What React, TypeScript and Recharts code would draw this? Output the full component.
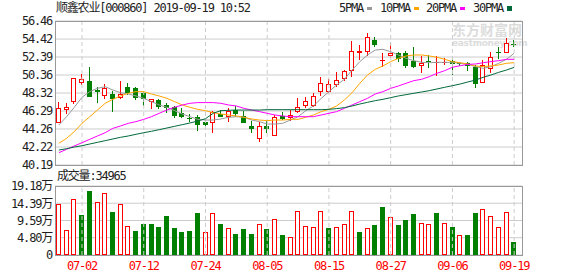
import {
  ComposedChart,
  BarChart,
  Bar,
  Line,
  XAxis,
  YAxis,
  CartesianGrid,
  ReferenceLine,
} from 'recharts';

// trading days shown in the window
const dates = [
  '06-27', '06-28', '07-01', '07-02', '07-03', '07-04', '07-05', '07-08', '07-09', '07-10',
  '07-11', '07-12', '07-15', '07-16', '07-17', '07-18', '07-19', '07-22', '07-23', '07-24',
  '07-25', '07-26', '07-29', '07-30', '07-31', '08-01', '08-02', '08-05', '08-06', '08-07',
  '08-08', '08-09', '08-12', '08-13', '08-14', '08-15', '08-16', '08-19', '08-20', '08-21',
  '08-22', '08-23', '08-26', '08-27', '08-28', '08-29', '08-30', '09-02', '09-03', '09-04',
  '09-05', '09-06', '09-09', '09-10', '09-11', '09-12', '09-16', '09-17', '09-18', '09-19',
];

const opens = [
  44.97, 46.4, 47.3, 49.49, 49.68, 48.65, 47.99, 48.21, 47.72, 49.04,
  48.85, 48.29, 47.35, 47.54, 46.97, 46.71, 46.1, 45.52, 45.58, 45.09,
  44.9, 45.9, 45.65, 46.4, 45.73, 44.6, 43.09, 44.6, 43.5, 45.76,
  45.46, 46.22, 46.86, 46.86, 48.48, 48.48, 49.23, 49.91, 50.85, 52.81,
  52.92, 54.31, 51.96, 52.54, 52.81, 52.81, 51.98, 51.38, 51.94, 51.68,
  51.68, 51.98, 51.7, 51.68, 51.3, 49.49, 51.0, 53.0, 52.81, 53.86,
];
const highs = [
  47.34, 47.16, 50.05, 50.47, 51.3, 49.0, 49.34, 48.59, 49.68, 49.42,
  49.04, 48.59, 47.65, 47.65, 47.24, 46.86, 46.59, 45.9, 45.84, 45.35,
  46.33, 46.4, 46.59, 46.86, 46.33, 45.16, 45.09, 45.16, 45.84, 46.22,
  46.4, 47.72, 47.84, 48.29, 50.1, 49.91, 50.66, 50.92, 54.2, 53.75,
  55.14, 54.69, 52.81, 54.01, 53.0, 53.1, 53.48, 52.5, 52.62, 52.5,
  52.24, 52.13, 51.8, 51.87, 51.49, 52.05, 53.0, 53.56, 54.5, 54.31,
];
const lows = [
  44.9, 45.95, 47.1, 49.23, 47.85, 47.16, 47.6, 46.22, 47.61, 48.1,
  47.54, 46.86, 46.48, 46.48, 46.1, 45.46, 45.5, 45.08, 44.07, 44.62,
  43.84, 45.6, 45.09, 45.65, 44.9, 43.84, 42.83, 43.84, 43.5, 45.27,
  45.16, 46.03, 46.59, 46.71, 47.99, 48.36, 48.97, 49.72, 50.1, 52.0,
  52.51, 53.56, 51.3, 52.24, 51.86, 51.15, 51.12, 50.62, 51.12, 50.25,
  51.49, 50.36, 51.35, 50.85, 48.85, 49.45, 50.55, 52.13, 52.8, 53.49,
];
const closes = [
  46.6, 46.71, 49.98, 49.87, 47.91, 48.4, 48.85, 47.61, 48.21, 48.36,
  47.72, 47.68, 47.61, 46.72, 46.68, 45.68, 45.62, 45.42, 44.71, 44.75,
  46.22, 45.65, 46.33, 45.95, 44.97, 44.26, 44.6, 44.26, 45.65, 45.39,
  45.84, 46.71, 47.42, 47.99, 49.42, 49.34, 49.79, 50.85, 53.1, 53.02,
  54.69, 53.75, 52.07, 52.81, 52.17, 51.41, 51.3, 51.75, 51.88, 51.8,
  51.83, 51.56, 51.6, 51.41, 49.34, 51.49, 52.43, 52.84, 54.01, 53.75,
];

// volume in 万 hands
const volumes = [
  14.27, 7.04, 15.66, 11.03, 17.7, 14.83, 17.33, 11.86, 14.08, 8.15,
  6.58, 8.52, 8.52, 7.69, 10.75, 7.41, 6.3, 6.58, 11.58, 6.49,
  11.77, 8.52, 7.6, 5.74, 7.13, 5.74, 8.52, 7.13, 10.1, 5.47,
  5.1, 12.32, 8.15, 7.88, 12.32, 7.41, 7.88, 8.52, 12.32, 6.3,
  7.6, 8.25, 13.25, 10.66, 8.25, 9.64, 11.3, 8.99, 8.71, 11.58,
  8.99, 7.69, 5.65, 5.65, 11.58, 12.88, 10.93, 7.88, 12.05, 3.5,
];

const ma5 = [
  44.71, 45.65, 46.71, 47.84, 48.48, 48.85, 49.04, 48.66, 48.36, 48.21,
  47.99, 47.72, 47.35, 46.97, 46.71, 46.33, 45.95, 45.65, 45.35, 45.27,
  45.27, 45.39, 45.58, 45.65, 45.58, 45.27, 45.09, 44.82, 44.82, 44.9,
  45.27, 45.65, 46.33, 46.86, 47.72, 48.48, 49.23, 49.87, 50.92, 51.87,
  52.62, 53.18, 53.26, 52.99, 52.62, 52.24, 51.98, 51.79, 51.75, 51.79,
  51.79, 51.79, 51.68, 51.56, 51.3, 51.11, 51.3, 51.68, 52.13, 52.81,
];
const ma10 = [
  42.64, 43.2, 43.96, 44.9, 45.65, 46.4, 47.16, 47.61, 47.99, 48.29,
  48.48, 48.48, 48.21, 47.99, 47.72, 47.35, 46.97, 46.71, 46.48, 46.33,
  46.1, 45.95, 45.84, 45.73, 45.58, 45.39, 45.27, 45.2, 45.27, 45.27,
  45.35, 45.35, 45.58, 45.84, 46.22, 46.48, 46.86, 47.54, 48.36, 49.42,
  50.36, 51.0, 51.38, 51.87, 52.24, 52.51, 52.62, 52.62, 52.51, 52.36,
  52.13, 51.87, 51.75, 51.6, 51.38, 51.3, 51.38, 51.49, 51.68, 51.75,
];
const ma20 = [
  41.58, 41.96, 42.34, 42.71, 43.09, 43.47, 43.84, 44.33, 44.6, 44.9,
  45.09, 45.35, 45.65, 46.03, 46.4, 46.71, 46.97, 47.16, 47.24, 47.24,
  47.24, 47.16, 46.97, 46.86, 46.59, 46.4, 46.22, 46.03, 45.84, 45.73,
  45.65, 45.65, 45.65, 45.65, 45.84, 46.03, 46.22, 46.59, 46.97, 47.35,
  47.72, 48.21, 48.48, 48.85, 49.12, 49.42, 49.72, 49.87, 50.17, 50.55,
  50.85, 51.23, 51.41, 51.56, 51.6, 51.75, 51.87, 51.98, 52.13, 52.13,
];
const ma30 = [
  41.88, 42.03, 42.22, 42.37, 42.56, 42.75, 42.94, 43.13, 43.32, 43.47,
  43.66, 43.84, 44.0, 44.18, 44.37, 44.56, 44.75, 44.94, 45.16, 45.42,
  46.03, 46.33, 46.37, 46.4, 46.4, 46.4, 46.4, 46.44, 46.44, 46.44,
  46.44, 46.44, 46.44, 46.44, 46.44, 46.48, 46.56, 46.67, 46.86, 47.08,
  47.27, 47.46, 47.61, 47.8, 47.99, 48.14, 48.29, 48.44, 48.59, 48.78,
  48.97, 49.15, 49.34, 49.57, 49.79, 50.1, 50.36, 50.66, 50.92, 51.22,
];

const priceTicks = [40.19, 42.22, 44.26, 46.29, 48.32, 50.36, 52.39, 54.42, 56.46];
const volumeTicks = [0, 4.8, 9.59, 14.39, 19.18];
const labelDates = ['07-02', '07-12', '07-24', '08-05', '08-15', '08-27', '09-06', '09-19'];

const RED = '#ff0000';
const GREEN = '#008000';
const GRID = '#cccccc';
const FONT = "'DejaVu Sans Mono', 'Noto Sans CJK SC', monospace";

const maLines = [
  { key: 'ma5', label: '5PMA', color: '#999999' },
  { key: 'ma10', label: '10PMA', color: '#ffa500' },
  { key: 'ma20', label: '20PMA', color: '#ff00ff' },
  { key: 'ma30', label: '30PMA', color: '#00693c' },
];

const rows = dates.map((date, i) => ({
  date,
  open: opens[i],
  high: highs[i],
  low: lows[i],
  close: closes[i],
  volume: volumes[i],
  ma5: ma5[i],
  ma10: ma10[i],
  ma20: ma20[i],
  ma30: ma30[i],
  volUp: i === 0 ? closes[i] >= opens[i] : closes[i] >= closes[i - 1],
}));

function Candle(props: any) {
  const { x, y, width, height, payload } = props;
  if (!payload) return null;
  const { open, high, low, close } = payload;
  const top = Math.min(y, y + height);
  const span = Math.abs(height);
  const spread = high - low;
  const toY = (v: number) => (spread > 0 ? top + ((high - v) / spread) * span : top);
  const cx = Math.floor(x + width / 2) + 0.5;
  const yHigh = Math.round(toY(high));
  const yLow = Math.round(toY(low));
  const bodyTop = Math.round(toY(Math.max(open, close)));
  const bodyBot = Math.round(toY(Math.min(open, close)));
  const up = close >= open;
  const color = up ? RED : GREEN;

  if (bodyBot - bodyTop < 2) {
    return (
      <g shapeRendering="crispEdges">
        <line x1={cx} x2={cx} y1={yHigh} y2={yLow} stroke={color} />
        <rect x={cx - 2.5} y={bodyTop} width={5} height={Math.max(1, bodyBot - bodyTop)} fill={color} />
      </g>
    );
  }
  if (up) {
    return (
      <g shapeRendering="crispEdges">
        <line x1={cx} x2={cx} y1={yHigh} y2={bodyTop} stroke={color} />
        <line x1={cx} x2={cx} y1={bodyBot} y2={yLow} stroke={color} />
        <rect x={cx - 2} y={bodyTop + 0.5} width={4} height={bodyBot - bodyTop - 1} fill="#fff" stroke={color} />
      </g>
    );
  }
  return (
    <g shapeRendering="crispEdges">
      <line x1={cx} x2={cx} y1={yHigh} y2={yLow} stroke={color} />
      <rect x={cx - 2.5} y={bodyTop} width={5} height={bodyBot - bodyTop} fill={color} />
    </g>
  );
}

function VolumeBar(props: any) {
  const { x, y, width, height, payload } = props;
  if (!payload) return null;
  const cx = Math.floor(x + width / 2) + 0.5;
  const top = Math.round(y);
  const bottom = Math.round(y + height);
  if (payload.volUp) {
    return (
      <rect x={cx - 2} y={top + 0.5} width={4} height={Math.max(0, bottom - top - 1)}
        fill="#fff" stroke={RED} shapeRendering="crispEdges" />
    );
  }
  return <rect x={cx - 2.5} y={top} width={5} height={bottom - top} fill={GREEN} shapeRendering="crispEdges" />;
}

function makeYTick(format: (v: number) => string) {
  return (props: any) => {
    const { x, y, payload } = props;
    return (
      <text x={x} y={y} dy="0.36em" textAnchor="end" fontSize={12} fontFamily={FONT}
        letterSpacing={-1.2} fill="#1e1e1e">
        {format(payload.value)}
      </text>
    );
  };
}

function DateTick(props: any) {
  const { x, y, payload } = props;
  return (
    <text x={x} y={y} dy={15} textAnchor="middle" fontSize={12} fontFamily={FONT}
      letterSpacing={-1.2} fill={RED}>
      {payload.value}
    </text>
  );
}

const textStyle: React.CSSProperties = {
  position: 'absolute',
  fontFamily: FONT,
  fontSize: 12,
  letterSpacing: -1.2,
  lineHeight: '14px',
  color: '#222',
  whiteSpace: 'nowrap',
};

const legendLeft = [339, 380, 426, 473];

export default function App() {
  return (
    <div style={{ position: 'absolute', left: 0, top: 0, width: 578, height: 276, background: '#fff', overflow: 'hidden' }}>
      {/* watermark */}
      <div style={{ position: 'absolute', left: 452, top: 22, fontFamily: "'Noto Sans CJK SC'", fontWeight: 700, fontSize: 14, lineHeight: '15px', color: '#dcdcdc' }}>
        东方财富网
      </div>
      <div style={{ position: 'absolute', left: 452, top: 39, fontFamily: "'DejaVu Sans'", fontWeight: 700, fontSize: 9, lineHeight: '9px', color: '#dcdcdc', letterSpacing: -0.3 }}>
        eastmoney.com
      </div>

      <div style={{ ...textStyle, left: 56, top: 1 }}>顺鑫农业[000860] 2019-09-19 10:52</div>

      {maLines.map((m, i) => (
        <div key={m.key} style={{ ...textStyle, left: legendLeft[i], top: 1, display: 'flex', alignItems: 'center' }}>
          <span>{m.label}</span>
          <span style={{ display: 'inline-block', width: 5, height: m.key === 'ma30' ? 5 : 3, background: m.color, marginLeft: 4 }} />
        </div>
      ))}

      <div style={{ position: 'absolute', left: 0, top: 0 }}>
        <ComposedChart width={578} height={178} data={rows} margin={{ top: 21, right: 56, bottom: 13, left: 0 }} barSize={5}>
          <CartesianGrid stroke={GRID} vertical={false} />
          <XAxis dataKey="date" hide padding={{ left: 0, right: 4 }} />
          <YAxis
            domain={[40.19, 56.46]}
            ticks={priceTicks}
            interval={0}
            width={55}
            axisLine={false}
            tickLine={false}
            tickSize={0}
            tickMargin={3}
            allowDataOverflow
            tick={makeYTick((v) => v.toFixed(2))}
          />
          {labelDates.map((d) => (
            <ReferenceLine key={d} x={d} stroke={GRID} strokeDasharray="4 3" />
          ))}
          <Bar dataKey={(d: any) => [d.low, d.high]} shape={<Candle />} isAnimationActive={false} />
          {maLines.map((m) => (
            <Line key={m.key} dataKey={m.key} type="linear" stroke={m.color} strokeWidth={1}
              dot={false} activeDot={false} isAnimationActive={false} />
          ))}
        </ComposedChart>
      </div>
      <div style={{ position: 'absolute', left: 55, top: 21, width: 468, height: 145, border: '1px solid #999', boxSizing: 'border-box', pointerEvents: 'none' }} />

      <div style={{ ...textStyle, left: 57, top: 169 }}>成交量:34965</div>

      <div style={{ position: 'absolute', left: 0, top: 180 }}>
        <BarChart width={578} height={96} data={rows} margin={{ top: 6, right: 56, bottom: 0, left: 0 }} barSize={5}>
          <CartesianGrid stroke={GRID} vertical={false} />
          <XAxis
            dataKey="date"
            ticks={labelDates}
            interval={0}
            height={21}
            padding={{ left: 0, right: 4 }}
            axisLine={false}
            tickLine={false}
            tickSize={0}
            tickMargin={0}
            tick={<DateTick />}
          />
          <YAxis
            domain={[0, 19.18]}
            ticks={volumeTicks}
            interval={0}
            width={55}
            axisLine={false}
            tickLine={false}
            tickSize={0}
            tickMargin={3}
            allowDataOverflow
            tick={makeYTick((v) => (v === 0 ? '0' : `${v.toFixed(2)}万`))}
          />
          {labelDates.map((d) => (
            <ReferenceLine key={d} x={d} stroke={GRID} strokeDasharray="4 3" />
          ))}
          <Bar dataKey="volume" shape={<VolumeBar />} isAnimationActive={false} />
        </BarChart>
      </div>
      <div style={{ position: 'absolute', left: 55, top: 186, width: 468, height: 70, border: '1px solid #999', boxSizing: 'border-box', pointerEvents: 'none' }} />
    </div>
  );
}
